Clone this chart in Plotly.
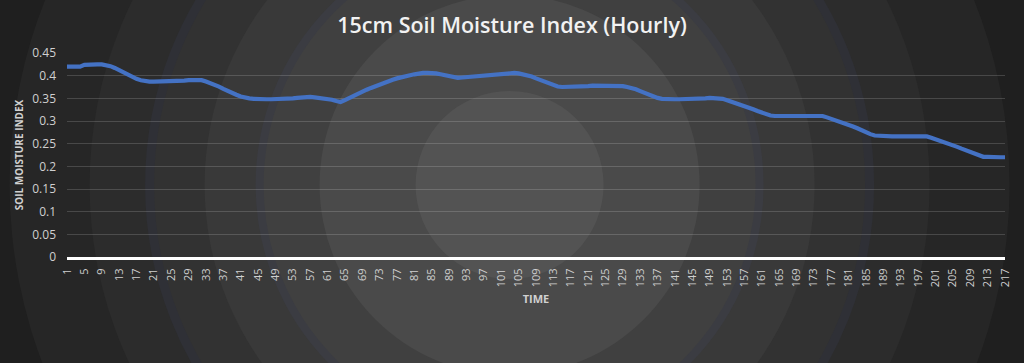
import plotly.graph_objects as go

# ---------------- data ----------------
HOURS = list(range(1, 218))
MOISTURE = [
    0.420, 0.420, 0.420, 0.420, 0.424, 0.425, 0.425, 0.425, 0.425, 0.424,
    0.421, 0.417, 0.412, 0.407, 0.402, 0.397, 0.393, 0.390, 0.388, 0.387,
    0.387, 0.387, 0.387, 0.387, 0.388, 0.389, 0.389, 0.389, 0.390, 0.390,
    0.391, 0.390, 0.387, 0.384, 0.380, 0.376, 0.371, 0.366, 0.362, 0.358,
    0.354, 0.351, 0.350, 0.349, 0.348, 0.348, 0.348, 0.348, 0.348, 0.349,
    0.349, 0.350, 0.350, 0.351, 0.352, 0.352, 0.353, 0.352, 0.351, 0.350,
    0.349, 0.347, 0.344, 0.342, 0.346, 0.351, 0.356, 0.361, 0.365, 0.369,
    0.373, 0.377, 0.381, 0.384, 0.387, 0.391, 0.394, 0.397, 0.399, 0.401,
    0.403, 0.405, 0.406, 0.406, 0.406, 0.405, 0.403, 0.401, 0.399, 0.397,
    0.395, 0.396, 0.397, 0.398, 0.399, 0.400, 0.400, 0.401, 0.402, 0.402,
    0.403, 0.405, 0.406, 0.406, 0.405, 0.403, 0.401, 0.398, 0.394, 0.390,
    0.386, 0.382, 0.378, 0.376, 0.375, 0.375, 0.375, 0.376, 0.376, 0.377,
    0.377, 0.378, 0.378, 0.379, 0.379, 0.379, 0.379, 0.378, 0.377, 0.375,
    0.373, 0.370, 0.366, 0.362, 0.358, 0.354, 0.351, 0.349, 0.348, 0.348,
    0.348, 0.348, 0.348, 0.348, 0.348, 0.349, 0.350, 0.350, 0.351, 0.351,
    0.351, 0.349, 0.346, 0.343, 0.340, 0.337, 0.334, 0.330, 0.326, 0.322,
    0.318, 0.314, 0.312, 0.311, 0.311, 0.311, 0.311, 0.311, 0.311, 0.311,
    0.311, 0.311, 0.311, 0.311, 0.311, 0.308, 0.305, 0.302, 0.298, 0.295,
    0.292, 0.288, 0.284, 0.279, 0.275, 0.271, 0.268, 0.267, 0.266, 0.266,
    0.266, 0.266, 0.266, 0.266, 0.266, 0.266, 0.266, 0.266, 0.266, 0.263,
    0.260, 0.256, 0.253, 0.250, 0.247, 0.243, 0.239, 0.235, 0.231, 0.227,
    0.223, 0.221, 0.221, 0.220, 0.220, 0.220, 0.220,
]
X_TICKS = list(range(1, 218, 4))
X_TICK_LABELS = [str(h) for h in X_TICKS]
Y_TICKS = [0, 0.05, 0.1, 0.15, 0.2, 0.25, 0.3, 0.35, 0.4, 0.45]
Y_TICK_LABELS = ["0", "0.05", "0.1", "0.15", "0.2", "0.25", "0.3", "0.35", "0.4", "0.45"]

TITLE = "15cm Soil Moisture Index (Hourly)"
X_TITLE = "TIME"
Y_TITLE = "SOIL MOISTURE INDEX"

# ---------------- layout geometry ----------------
W, H = 1024, 363
M_L, M_R, M_T, M_B = 67, 16, 53, 106
PW, PH = W - M_L - M_R, H - M_T - M_B
CX, CY = 511, 185  # centre of radial background (pixels)
ax_ = (CX - M_L) / PW
ay_ = (H - M_B - CY) / PH

# concentric rings (radius px, fill, edge colour, edge width)
RINGS = [
    (900, "#1f1f1f", None, 0),
    (500, "#262626", None, 0),
    (420, "#2c2c2c", None, 0),
    (360, "#323232", "#2f3036", 9),
    (305, "#393939", None, 0),
    (250, "#404040", "#3b3c42", 8),
    (190, "#4a4a4a", None, 0),
    (94, "#535353", None, 0),
]

shapes = []
for r, fill, edge, ew in RINGS:
    shapes.append(dict(
        type="circle", xref="paper", yref="paper",
        xsizemode="pixel", ysizemode="pixel",
        xanchor=ax_, yanchor=ay_,
        x0=-r, x1=r, y0=-r, y1=r,
        fillcolor=fill,
        line=dict(color=edge if edge else fill, width=ew),
        layer="below",
    ))

fig = go.Figure()
fig.add_trace(go.Scatter(
    x=HOURS, y=MOISTURE, mode="lines",
    line=dict(color="#4472C4", width=4.2, shape="linear"),
    hoverinfo="x+y", showlegend=False,
))

FONT = "Open Sans"
TICK_COLOR = "#d0d0d0"

fig.update_layout(
    width=W, height=H,
    margin=dict(l=M_L, r=M_R, t=M_T, b=M_B, pad=0),
    paper_bgcolor="#1f1f1f",
    plot_bgcolor="rgba(0,0,0,0)",
    shapes=shapes,
    title=dict(
        text=TITLE, x=0.5, xanchor="center", xref="container",
        y=1 - 25 / H, yanchor="middle", yref="container",
        font=dict(family=FONT, size=21.5, color="#f2f2f2", weight=600),
    ),
    xaxis=dict(
        range=[1, 217], tickmode="array", tickvals=X_TICKS, ticktext=X_TICK_LABELS,
        tickangle=-90, tickfont=dict(family=FONT, size=11, color=TICK_COLOR),
        showgrid=False, zeroline=False,
        showline=True, linecolor="#ffffff", linewidth=3,
        ticks="", ticklabelstandoff=4,
        title=dict(text=X_TITLE, standoff=10,
                   font=dict(family=FONT, size=11, color=TICK_COLOR, weight=700)),
        fixedrange=True,
    ),
    yaxis=dict(
        range=[0, 0.45], tickmode="array", tickvals=Y_TICKS, ticktext=Y_TICK_LABELS,
        tickfont=dict(family=FONT, size=12, color=TICK_COLOR),
        showgrid=True, gridcolor="rgba(255,255,255,0.16)", gridwidth=1,
        zeroline=False, showline=False, ticks="", ticklabelstandoff=10,
        title=dict(text=Y_TITLE, standoff=6,
                   font=dict(family=FONT, size=10, color=TICK_COLOR, weight=700)),
        fixedrange=True,
    ),
)

fig.write_html(
    "out.html",
    config={"displayModeBar": False},
    post_script="document.body.style.margin='0';document.body.style.background='#1f1f1f';",
)
